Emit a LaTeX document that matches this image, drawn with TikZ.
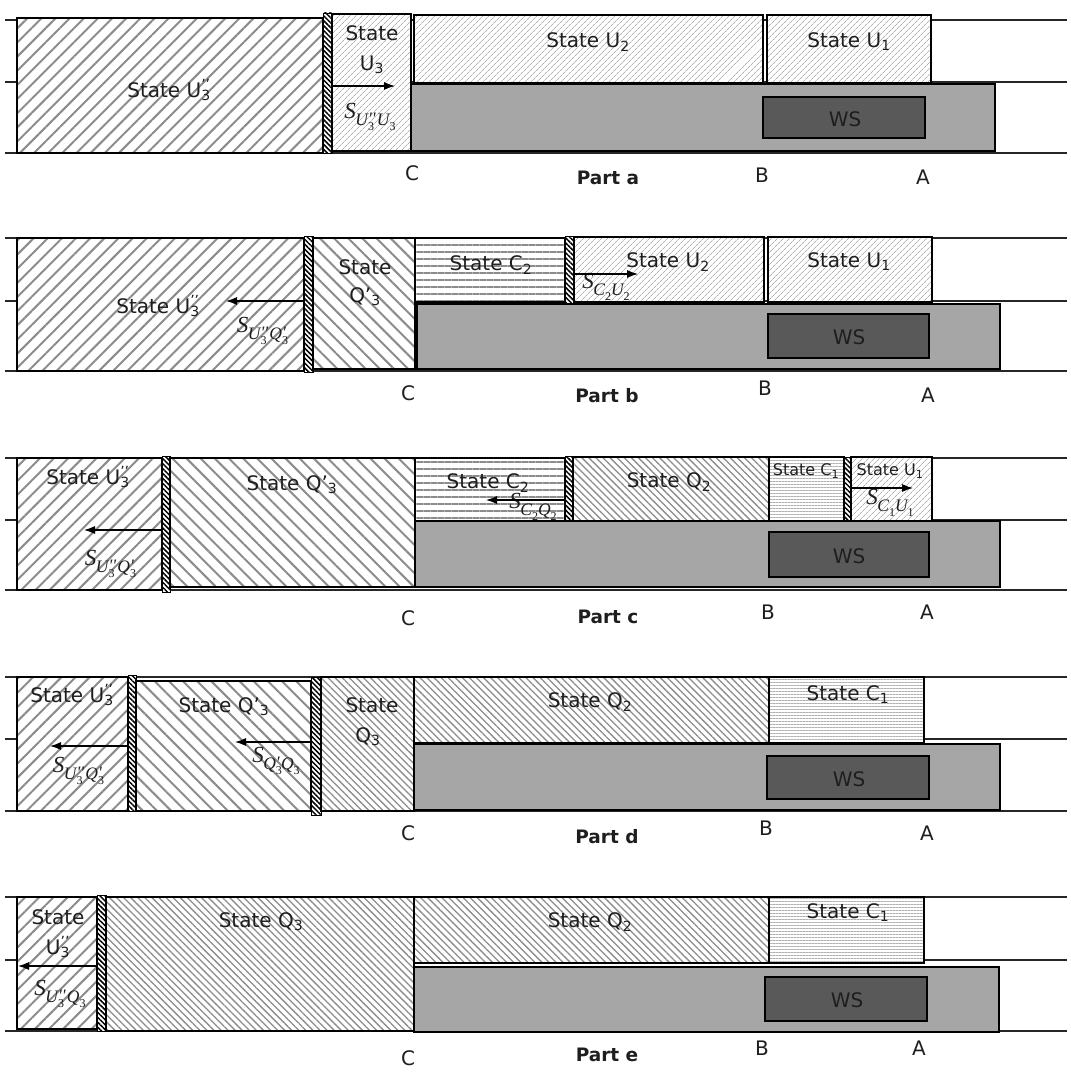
\documentclass[tikz,border=0pt]{standalone}
\usepackage{fontspec}
\setmainfont{DejaVu Sans}
\newfontfamily\mfont{Liberation Serif}
\usetikzlibrary{patterns.meta,arrows.meta}
\definecolor{hatch}{HTML}{8C8C8C}
\definecolor{fine}{HTML}{B0B0B0}
\definecolor{graybox}{HTML}{A6A6A6}
\definecolor{wsgray}{HTML}{595959}
\definecolor{txt}{HTML}{1E1E1E}
\newcommand\Upp{U\rlap{\textsubscript{3}}\textsuperscript{’’}}
% symbol labels built in text mode
\newcommand\dg[1]{\raisebox{-0.28em}{\fontsize{12}{13}\selectfont\upshape #1}}
\newcommand\ix[2]{#1\dg{#2}}
\newcommand\ixp[3]{#1\rlap{\dg{#2}}\raisebox{0.05em}{#3}\kern0.08em}
\newcommand\Sx[1]{{\mfont\itshape\fontsize{23}{26}\selectfont S\kern-0.02em\raisebox{-0.3em}{\fontsize{17.5}{19}\selectfont #1}}}
\newcommand\bx[6]{\node[#1, minimum width={(#5-#3)*1pt}, minimum height={(#6-#4)*1pt}] (#2) at (#3,#4) {};}
\tikzset{
  box/.style={draw=black, line width=1.2pt, inner sep=0pt, outer sep=0pt, anchor=north west, preaction={fill=white}},
  wide/.style={box, pattern={Lines[angle=45,distance=10pt,line width=2pt]}, pattern color=hatch},
  fineh/.style={box, pattern={Lines[angle=45,distance=4pt,line width=0.8pt]}, pattern color=fine},
  qwide/.style={box, pattern={Lines[angle=-45,distance=10pt,line width=2pt]}, pattern color=hatch},
  qfine/.style={box, pattern={Lines[angle=-45,distance=5pt,line width=1.3pt]}, pattern color=hatch},
  chor/.style={box, pattern={Lines[angle=0,distance=7pt,line width=2.6pt]}, pattern color=hatch},
  cfine/.style={box, pattern={Lines[angle=0,distance=3pt,line width=0.8pt]}, pattern color=fine},
  barrier/.style={box, line width=0.8pt, pattern={Lines[angle=-45,distance=3.5pt,line width=1.5pt]}, pattern color=black},
  gbox/.style={draw=black, line width=1.2pt, inner sep=0pt, outer sep=0pt, anchor=north west, fill=graybox},
  wsbox/.style={draw=black, line width=1.3pt, inner sep=0pt, outer sep=0pt, anchor=north west, fill=wsgray},
  rail/.style={draw=black!85, line width=1.3pt},
  lbl/.style={inner sep=0pt, text=txt, font=\fontsize{20}{22}\selectfont},
  slbl/.style={inner sep=0pt, text=txt, font=\fontsize{16}{18}\selectfont},
  plbl/.style={inner sep=0pt, text=txt, font=\fontsize{18.5}{21}\selectfont\bfseries},
  mlbl/.style={inner sep=0pt, text=txt},
  arr/.style={-{Latex[length=11pt,width=8pt]}, line width=1.2pt, draw=black},
}
\begin{document}
\begin{tikzpicture}[x=1pt,y=-1pt]
\useasboundingbox (0,0) rectangle (1070,1078);
% ---------- rails
\foreach \t/\m/\b in {20/82/153, 238/301/371, 458/520/590, 677/739/811, 897/960/1031}{
  \draw[rail] (5,\t) -- (1067,\t);
  \draw[rail] (5,\m) -- (1067,\m);
  \draw[rail] (5,\b) -- (1067,\b);
}
% ================= Part a
\bx{wide}{aUpp}{17}{18}{323}{153}
\bx{barrier}{aBar}{323}{13}{332}{153}
\bx{fineh}{aU3}{332}{14}{411}{151}
\bx{fineh}{aU2}{414}{15}{763}{83}
\bx{fineh}{aU1}{767}{15}{931}{83}
\bx{gbox}{aG}{411}{84}{995}{151}
\bx{wsbox}{aWS}{763}{97}{925}{138}
\node[lbl] (taUpp) at (169,90) {State \Upp};
\node[lbl] (taU3a) at (372,33) {State};
\node[lbl] (taU3b) at (372,65) {U\textsubscript{3}};
\node[lbl] (taU2) at (588,42) {State U\textsubscript{2}};
\node[lbl] (taU1) at (849,42) {State U\textsubscript{1}};
\node[lbl] (taWS) at (845,119) {WS};
\node[mlbl] (maS) at (370,117) {\Sx{\ixp{U}{3}{''}\ix{U}{3}}};
\coordinate (aAs) at (332,86); \coordinate (aAe) at (395,86);
\draw[arr] (aAs) -- (aAe);
\node[lbl] (aC) at (412,173) {C};
\node[plbl] (aP) at (608,178) {Part a};
\node[lbl] (aB) at (762,175) {B};
\node[lbl] (aA) at (923,177) {A};
% ================= Part b
\bx{wide}{bUpp}{17}{238}{304}{371}
\bx{barrier}{bBar1}{304}{236}{313}{372}
\bx{qwide}{bQp}{313}{238}{415}{369}
\bx{chor}{bC2}{415}{238}{565}{302}
\bx{barrier}{bBar2}{565}{236}{574}{304}
\bx{fineh}{bU2}{574}{237}{764}{302}
\bx{fineh}{bU1}{768}{237}{932}{302}
\bx{gbox}{bG}{417}{304}{1000}{369}
\bx{wsbox}{bWS}{768}{314}{929}{358}
\node[lbl] (tbUpp) at (158,306) {State \Upp};
\node[lbl] (tbQa) at (365,267) {State};
\node[lbl] (tbQb) at (365,297) {Q’\textsubscript{3}};
\node[lbl] (tbC2) at (491,265) {State C\textsubscript{2}};
\node[lbl] (tbU2) at (668,262) {State U\textsubscript{2}};
\node[lbl] (tbU1) at (849,262) {State U\textsubscript{1}};
\node[lbl] (tbWS) at (849,337) {WS};
\node[mlbl] (mbS1) at (262,331) {\Sx{\ixp{U}{3}{''}\ixp{Q}{3}{'}}};
\node[mlbl] (mbS2) at (606,287) {\Sx{\ix{C}{2}\ix{U}{2}}};
\coordinate (bA1s) at (304,301); \coordinate (bA1e) at (226,301);
\draw[arr] (bA1s) -- (bA1e);
\coordinate (bA2s) at (575,274); \coordinate (bA2e) at (638,274);
\draw[arr] (bA2s) -- (bA2e);
\node[lbl] (bC) at (408,393) {C};
\node[plbl] (bP) at (607,396) {Part b};
\node[lbl] (bB) at (765,388) {B};
\node[lbl] (bA) at (928,395) {A};
% ================= Part c
\bx{wide}{cUpp}{17}{458}{162}{590}
\bx{barrier}{cBar1}{162}{456}{170}{592}
\bx{qwide}{cQp}{170}{458}{415}{587}
\bx{chor}{cC2}{415}{458}{565}{521}
\bx{barrier}{cBar2}{565}{456}{573}{521}
\bx{qfine}{cQ2}{573}{457}{769}{521}
\bx{cfine}{cC1}{769}{457}{844}{521}
\bx{barrier}{cBar3}{844}{457}{851}{521}
\bx{fineh}{cU1}{851}{457}{932}{521}
\bx{gbox}{cG}{415}{521}{1000}{587}
\bx{wsbox}{cWS}{769}{532}{929}{577}
\node[lbl] (tcUpp) at (88,477) {State \Upp};
\node[lbl] (tcQp) at (292,485) {State Q’\textsubscript{3}};
\node[lbl] (tcC2) at (488,483) {State C\textsubscript{2}};
\node[lbl] (tcQ2) at (669,482) {State Q\textsubscript{2}};
\node[slbl] (tcC1) at (806,471) {State C\textsubscript{1}};
\node[slbl] (tcU1) at (890,471) {State U\textsubscript{1}};
\node[lbl] (tcWS) at (849,556) {WS};
\node[mlbl] (mcS1) at (110,564) {\Sx{\ixp{U}{3}{''}\ixp{Q}{3}{'}}};
\node[mlbl] (mcS2) at (533,507) {\Sx{\ix{C}{2}\ix{Q}{2}}};
\node[mlbl] (mcS3) at (890,503) {\Sx{\ix{C}{1}\ix{U}{1}}};
\coordinate (cA1s) at (162,530); \coordinate (cA1e) at (84,530);
\draw[arr] (cA1s) -- (cA1e);
\coordinate (cA2s) at (565,500); \coordinate (cA2e) at (486,500);
\draw[arr] (cA2s) -- (cA2e);
\coordinate (cA3s) at (852,488); \coordinate (cA3e) at (913,488);
\draw[arr] (cA3s) -- (cA3e);
\node[lbl] (cC) at (408,618) {C};
\node[plbl] (cP) at (608,617) {Part c};
\node[lbl] (cB) at (768,612) {B};
\node[lbl] (cA) at (927,612) {A};
% ================= Part d
\bx{wide}{dUpp}{17}{677}{128}{811}
\bx{barrier}{dBar1}{128}{675}{136}{811}
\bx{qwide}{dQp}{136}{681}{311}{811}
\bx{barrier}{dBar2}{311}{677}{321}{815}
\bx{qfine}{dQ3}{321}{677}{414}{811}
\bx{qfine}{dQ2}{414}{677}{769}{743}
\bx{cfine}{dC1}{769}{677}{924}{743}
\bx{gbox}{dG}{414}{744}{1000}{810}
\bx{wsbox}{dWS}{767}{756}{929}{799}
\node[lbl] (tdUpp) at (72,695) {State \Upp};
\node[lbl] (tdQp) at (224,707) {State Q’\textsubscript{3}};
\node[lbl] (tdQ3a) at (372,705) {State};
\node[lbl] (tdQ3b) at (368,737) {Q\textsubscript{3}};
\node[lbl] (tdQ2) at (590,702) {State Q\textsubscript{2}};
\node[lbl] (tdC1) at (848,695) {State C\textsubscript{1}};
\node[lbl] (tdWS) at (849,779) {WS};
\node[mlbl] (mdS1) at (78,771) {\Sx{\ixp{U}{3}{''}\ixp{Q}{3}{'}}};
\node[mlbl] (mdS2) at (276,761) {\Sx{\ixp{Q}{3}{'}\ix{Q}{3}}};
\coordinate (dA1s) at (128,746); \coordinate (dA1e) at (50,746);
\draw[arr] (dA1s) -- (dA1e);
\coordinate (dA2s) at (311,742); \coordinate (dA2e) at (235,742);
\draw[arr] (dA2s) -- (dA2e);
\node[lbl] (dC) at (408,833) {C};
\node[plbl] (dP) at (607,837) {Part d};
\node[lbl] (dB) at (766,828) {B};
\node[lbl] (dA) at (927,833) {A};
% ================= Part e
\bx{wide}{eUpp}{17}{897}{97}{1029}
\bx{barrier}{eBar}{97}{895}{106}{1031}
\bx{qfine}{eQ3}{106}{897}{414}{1031}
\bx{qfine}{eQ2}{414}{897}{769}{963}
\bx{cfine}{eC1}{769}{897}{924}{963}
\bx{gbox}{eG}{414}{967}{999}{1032}
\bx{wsbox}{eWS}{765}{977}{927}{1021}
\node[lbl] (teUa) at (58,917) {State};
\node[lbl] (teUb) at (58,947) {\Upp};
\node[lbl] (teQ3) at (261,922) {State Q\textsubscript{3}};
\node[lbl] (teQ2) at (590,922) {State Q\textsubscript{2}};
\node[lbl] (teC1) at (848,913) {State C\textsubscript{1}};
\node[lbl] (teWS) at (847,1000) {WS};
\node[mlbl] (meS1) at (60,994) {\Sx{\ixp{U}{3}{''}\ix{Q}{3}}};
\coordinate (eA1s) at (97,966); \coordinate (eA1e) at (18,966);
\draw[arr] (eA1s) -- (eA1e);
\node[lbl] (eC) at (408,1058) {C};
\node[plbl] (eP) at (607,1055) {Part e};
\node[lbl] (eB) at (762,1048) {B};
\node[lbl] (eA) at (919,1048) {A};
\end{tikzpicture}
\end{document}
